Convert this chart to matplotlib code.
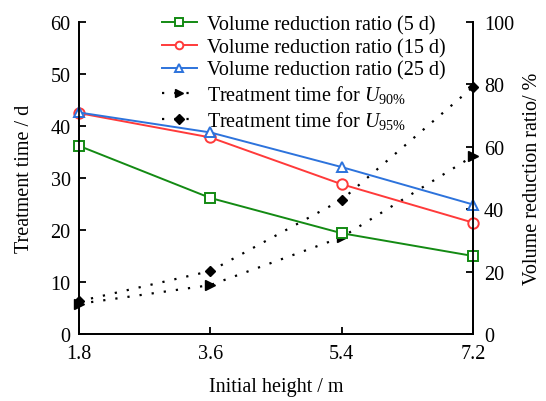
import matplotlib
matplotlib.use("Agg")
import matplotlib.pyplot as plt

plt.rcParams['font.family'] = ['Liberation Serif', 'DejaVu Serif']
plt.rcParams['mathtext.fontset'] = 'custom'
plt.rcParams['mathtext.rm'] = 'Liberation Serif'
plt.rcParams['mathtext.it'] = 'Liberation Serif:italic'

heights = [1.8, 3.6, 5.4, 7.2]
t_u90 = [5.8, 9.4, 18.6, 34.2]
t_u95 = [6.3, 12.1, 25.8, 47.5]
vr_5d = [60.3, 43.6, 32.3, 25.0]
vr_15d = [70.8, 63.0, 48.0, 35.7]
vr_25d = [71.0, 64.6, 53.5, 41.5]

FS = 14.5

fig = plt.figure(figsize=(5.46, 4.02), dpi=100)
ax = fig.add_axes([0.1447, 0.1667, 0.7216, 0.7761])
ax2 = ax.twinx()

dot = (0, (1, 4.5))
l4, = ax.plot(heights, t_u90, linestyle=dot, color='black', marker='>', ms=6.5, lw=1.6,
              label=r'Treatment time for $\mathit{U}_{90\%}$', clip_on=False, zorder=3)
l5, = ax.plot(heights, t_u95, linestyle=dot, color='black', marker='D', ms=5.5, lw=1.6,
              label=r'Treatment time for $\mathit{U}_{95\%}$', clip_on=False, zorder=3)

l1, = ax2.plot(heights, vr_5d, '-', color='#138a13', marker='s', ms=7, mfc='white', mew=1.4, lw=1.4,
               label='Volume reduction ratio (5 d)', clip_on=False)
l2, = ax2.plot(heights, vr_15d, '-', color='#ff3a3a', marker='o', ms=7.5, mfc='white', mew=1.4, lw=1.4,
               label='Volume reduction ratio (15 d)', clip_on=False)
l3, = ax2.plot(heights, vr_25d, '-', color='#2d73dc', marker='^', ms=7.5, mfc='white', mew=1.4, lw=1.4,
               label='Volume reduction ratio (25 d)', clip_on=False)

ax.set_xlim(1.8, 7.2)
ax.set_ylim(0, 60)
ax2.set_ylim(0, 100)
ax.set_xticks(heights)
ax.set_xticklabels(['1.8', '3.6', '5.4', '7.2'])
ax.set_yticks(range(0, 61, 10))
ax2.set_yticks(range(0, 101, 20))

for a in (ax, ax2):
    a.tick_params(direction='in', labelsize=FS, length=5, width=1.3, pad=6)
    for s in a.spines.values():
        s.set_linewidth(1.3)
    a.spines['top'].set_visible(False)
ax.tick_params(axis='x', pad=7)
ax2.tick_params(axis='y', pad=8)

ax.set_xlabel('Initial height / m', fontsize=FS, labelpad=10)
ax.set_ylabel('Treatment time / d', fontsize=FS, labelpad=12)
ax2.set_ylabel('Volume reduction ratio/ %', fontsize=FS, labelpad=6)

leg = ax2.legend(handles=[l1, l2, l3, l4, l5], loc='upper left', bbox_to_anchor=(0.21, 1.022),
                 frameon=False, fontsize=FS, handlelength=1.75, labelspacing=0.17,
                 handletextpad=0.5, borderaxespad=0, borderpad=0)
for h in leg.legend_handles:
    h.set_markersize(5.5)

fig.savefig('out.png', dpi=100)
